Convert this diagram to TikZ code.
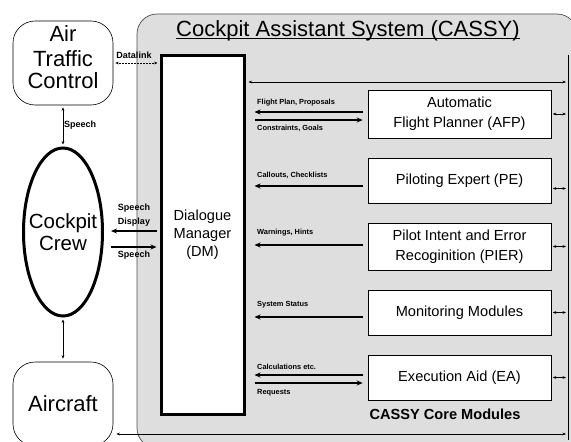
\documentclass[tikz,border=0pt]{standalone}
\usepackage{fontspec}
\setmainfont{Liberation Sans}
\usetikzlibrary{arrows.meta,shapes.geometric,calc}
\definecolor{cassyfill}{gray}{0.87}
\begin{document}
\begin{tikzpicture}[x=1pt,y=-1pt,
  roundbox/.style={draw, line width=0.6pt, rounded corners=22pt, fill=white,
    minimum width=100pt, inner sep=0, align=center},
  bigfont/.style={font=\fontsize{22}{22}\selectfont},
  modbox/.style={draw, line width=0.6pt, fill=white, minimum width=183pt,
    minimum height=45pt, inner sep=0, align=center,
    font=\fontsize{14.6}{20}\selectfont},
  dmbox/.style={draw, line width=3pt, fill=white, minimum width=83pt,
    minimum height=359pt, inner sep=0, align=center,
    font=\fontsize{14.6}{18}\selectfont},
  lbl/.style={font=\fontsize{7.4}{8}\selectfont\bfseries, inner sep=0},
  lblL/.style={font=\fontsize{9}{10}\selectfont\bfseries, inner sep=0},
  thinarr/.style={line width=0.5pt,
    {Stealth[length=3.5pt,width=2.8pt]}-{Stealth[length=3.5pt,width=2.8pt]}},
  fatarr/.style={line width=1.8pt, -{Stealth[length=6pt,width=5pt]}},
  fatL/.style={fatarr, shorten <=5pt, shorten >=9pt},
  fatR/.style={fatarr, shorten <=9pt, shorten >=5pt}]
\useasboundingbox (0,0) rectangle (571,442);
\fill[white] (0,0) rectangle (571,442);

% CASSY area
\node[draw=black!70, line width=0.7pt, rounded corners=20pt, fill=cassyfill,
  minimum width=440pt, minimum height=434pt, inner sep=0] (cassy) at (357,231) {};
\node[font=\fontsize{22}{22}\selectfont, inner sep=0, anchor=base] (title) at (348,36)
  {Cockpit Assistant System (CASSY)};
\draw[line width=1pt] ([yshift=-2.5pt]title.base west) -- ([yshift=-2.5pt]title.base east);

% bus
\coordinate (bt) at (568,55);
\coordinate (bb) at (568,440);
\draw[line width=0.6pt] (bt) -- (bb);

% left column
\node[roundbox, minimum height=84pt,
  label={[bigfont, align=center, yshift=5.5pt]center:Air\\[3pt]Traffic\\Control}]
  (atc) at (63,63) {};
\node[ellipse, draw, line width=3pt, minimum width=79pt, minimum height=168pt,
  inner sep=0, fill=white,
  label={[font=\fontsize{20.5}{22}\selectfont, align=center]center:Cockpit\\Crew}] (crew) at (63,232) {};
\node[roundbox, minimum height=84pt, bigfont] (ac) at (63,404) {Aircraft};

% dialogue manager
\node[dmbox] (dm) at (202.5,234.5) {Dialogue\\Manager\\(DM)};

% modules
\node[modbox, minimum height=48pt] (afp) at (459.5,114) {Automatic\\Flight Planner (AFP)};
\node[modbox] (pe) at (459.5,180.5) {Piloting Expert (PE)};
\node[modbox, minimum height=47pt] (pier) at (459.5,246.5) {Pilot Intent and Error\\Recoginition (PIER)};
\node[modbox] (mon) at (459.5,312.5) {Monitoring Modules};
\node[modbox] (ea) at (459.5,377.5) {Execution Aid (EA)};
\node[font=\bfseries\fontsize{14.6}{16}\selectfont, inner sep=0] (core) at (445,414) {CASSY Core Modules};

% left connectors
\coordinate (dl) at (135,63);
\draw[thinarr, densely dotted, shorten <=2pt, shorten >=2pt] (dm.west |- dl) -- (atc.east |- dl);
\node[lblL] (ldl) at (134,55) {Datalink};
\draw[thinarr, shorten <=2pt, shorten >=2pt] (atc.south) -- (crew.north);
\node[lblL, anchor=west] (lsp1) at (64,125) {Speech};
\draw[thinarr, shorten <=2pt, shorten >=3pt] (crew.south) -- (ac.north);

\coordinate (c1) at (130,231);
\coordinate (c2) at (130,247);
\draw[fatarr, shorten <=3pt, shorten >=7pt] (dm.west |- c1) -- (crew.east |- c1);
\draw[fatarr, shorten <=7pt, shorten >=3pt] (crew.east |- c2) -- (dm.west |- c2);
\node[lblL] (lsp2) at (134,208) {Speech};
\node[lblL] (ldisp) at (134,222) {Display};
\node[lblL] (lsp3) at (134,255) {Speech};

% top and bottom bus lines
\coordinate (tr) at (400,82);
\draw[thinarr, shorten <=3pt, shorten >=2pt] (dm.east |- tr) -- (bt |- tr);
\coordinate (br) at (300,434);
\draw[thinarr, shorten <=3pt, shorten >=2pt] (ac.east |- br) -- (bt |- br);

% module to DM arrows
\coordinate (r1) at (300,112);
\coordinate (r2) at (300,120);
\coordinate (r3) at (300,186);
\coordinate (r4) at (300,245);
\coordinate (r5) at (300,317);
\coordinate (r6) at (300,375);
\coordinate (r7) at (300,383);
\draw[fatL] (afp.west |- r1) -- (dm.east |- r1);
\draw[fatR] (dm.east |- r2) -- (afp.west |- r2);
\draw[fatL] (pe.west |- r3) -- (dm.east |- r3);
\draw[fatL] (pier.west |- r4) -- (dm.east |- r4);
\draw[fatL] (mon.west |- r5) -- (dm.east |- r5);
\draw[fatL] (ea.west |- r6) -- (dm.east |- r6);
\draw[fatR] (dm.east |- r7) -- (ea.west |- r7);

\node[lbl, anchor=west] (l1) at (257,103) {Flight Plan, Proposals};
\node[lbl, anchor=west] (l2) at (257,128) {Constraints, Goals};
\node[lbl, anchor=west] (l3) at (257,175) {Callouts, Checklists};
\node[lbl, anchor=west] (l4) at (257,233) {Warnings, Hints};
\node[lbl, anchor=west] (l5) at (257,305) {System Status};
\node[lbl, anchor=west] (l6) at (257,367) {Calculations etc.};
\node[lbl, anchor=west] (l7) at (257,393) {Requests};

% module to bus connectors
\coordinate (pe1) at ([yshift=-8pt]pe.east);
\draw[thinarr, shorten <=1.5pt, shorten >=2pt] (afp.east) -- (afp.east -| bt);
\draw[thinarr, shorten <=1.5pt, shorten >=2pt] (pe1) -- (pe1 -| bt);
\draw[thinarr, shorten <=1.5pt, shorten >=2pt] (pier.east) -- (pier.east -| bt);
\draw[thinarr, shorten <=1.5pt, shorten >=2pt] (mon.east) -- (mon.east -| bt);
\draw[thinarr, shorten <=1.5pt, shorten >=2pt] (ea.east) -- (ea.east -| bt);
\end{tikzpicture}
\end{document}
